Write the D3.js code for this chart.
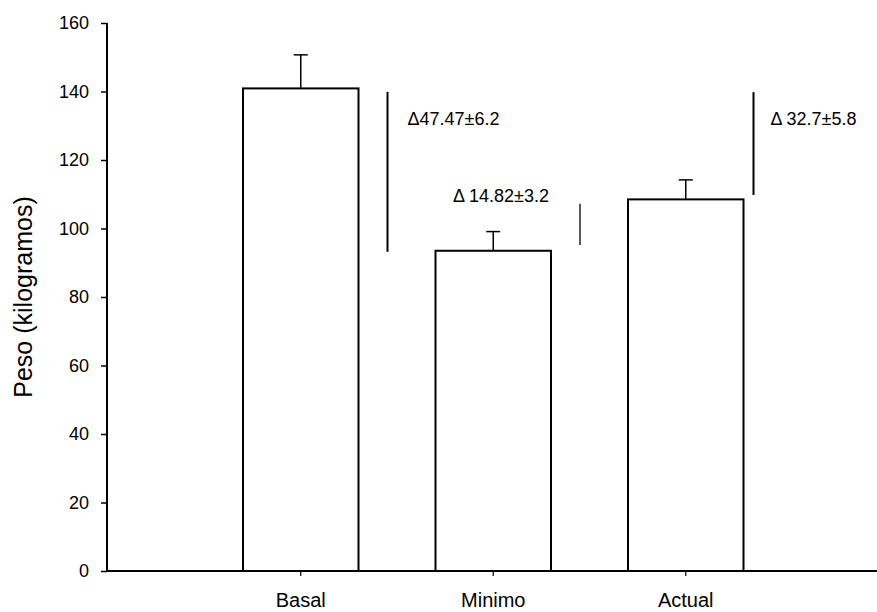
<!DOCTYPE html>
<html>
<head>
<meta charset="utf-8">
<script src="https://cdn.jsdelivr.net/npm/d3@7"></script>
<style>
  body { margin: 0; background: #fff; }
  svg { display: block; font-family: "Liberation Sans", Arial, sans-serif; }
</style>
</head>
<body>
<div id="graphic"></div>
<script>
// data
var categories = ["Basal", "Minimo", "Actual"];
var means = [140.9, 93.5, 108.5];
var errors = [9.8, 5.6, 5.7];
var yTicks = [0, 20, 40, 60, 80, 100, 120, 140, 160];

// delta annotations: text and the span of the vertical bar (kg)
var deltaLabels = ["\u039447.47\u00b16.2", "\u0394 14.82\u00b13.2", "\u0394 32.7\u00b15.8"];
var deltaTop = [139.9, 107.2, 139.8];
var deltaBottom = [93.2, 95.2, 109.8];

var width = 877, height = 612;
var axisX = 107;

var svg = d3.select("#graphic").append("svg")
  .attr("width", width)
  .attr("height", height);

// set the ranges
var y = d3.scaleLinear()
  .domain([0, 160])
  .range([571, 23]);

var x = d3.scaleBand()
  .domain(categories)
  .range([204.5, 782])
  .paddingInner(0.4)
  .paddingOuter(0.2);

var bars = categories.map(function(c, i) {
  return {name: c, mean: means[i], err: errors[i]};
});

// bars
svg.selectAll(".bar")
  .data(bars)
  .enter().append("rect")
  .attr("class", "bar")
  .attr("x", function(d) { return x(d.name); })
  .attr("y", function(d) { return y(d.mean); })
  .attr("width", x.bandwidth())
  .attr("height", function(d) { return y(0) - y(d.mean); })
  .attr("fill", "#fff")
  .attr("stroke", "#000")
  .attr("stroke-width", 2);

// error bars (upper only)
var err = svg.selectAll(".err")
  .data(bars)
  .enter().append("g")
  .attr("class", "err");

err.append("line")
  .attr("x1", function(d) { return x(d.name) + x.bandwidth() / 2; })
  .attr("x2", function(d) { return x(d.name) + x.bandwidth() / 2; })
  .attr("y1", function(d) { return y(d.mean); })
  .attr("y2", function(d) { return y(d.mean + d.err); })
  .attr("stroke", "#000")
  .attr("stroke-width", 1.5);

err.append("line")
  .attr("x1", function(d) { return x(d.name) + x.bandwidth() / 2 - 7; })
  .attr("x2", function(d) { return x(d.name) + x.bandwidth() / 2 + 7; })
  .attr("y1", function(d) { return y(d.mean + d.err); })
  .attr("y2", function(d) { return y(d.mean + d.err); })
  .attr("stroke", "#000")
  .attr("stroke-width", 1.5);

// y axis
var yAxis = svg.append("g")
  .attr("transform", "translate(" + axisX + ",0)")
  .call(d3.axisLeft(y).tickValues(yTicks).tickSize(6).tickPadding(12));

yAxis.select(".domain").remove();
yAxis.append("line")
  .attr("x1", 0).attr("x2", 0)
  .attr("y1", y(0)).attr("y2", y(160))
  .attr("stroke", "#000")
  .attr("stroke-width", 2);
yAxis.selectAll(".tick line").attr("stroke-width", 1.5);
yAxis.selectAll(".tick text")
  .attr("font-size", 18)
  .attr("fill", "#000");

// x axis
var xAxis = svg.append("g")
  .attr("transform", "translate(0," + y(0) + ")")
  .call(d3.axisBottom(x).tickSize(5).tickPadding(0));

xAxis.select(".domain").remove();
xAxis.append("line")
  .attr("x1", axisX).attr("x2", width)
  .attr("y1", 0).attr("y2", 0)
  .attr("stroke", "#000")
  .attr("stroke-width", 2);
xAxis.selectAll(".tick line").attr("stroke-width", 1.2);
xAxis.selectAll(".tick text")
  .attr("y", 36)
  .attr("dy", 0)
  .attr("font-size", 20)
  .attr("fill", "#000");

// y axis title
svg.append("text")
  .attr("transform", "translate(32," + (y(0) + y(160)) / 2 + ") rotate(-90)")
  .attr("text-anchor", "middle")
  .attr("font-size", 25)
  .text("Peso (kilogramos)");

// delta annotations
var lineOffset = [29, 29, 10];
var textDx = [20, -127, 17];
var textDy = [33, -2, 33];

var ann = svg.selectAll(".delta")
  .data(deltaLabels)
  .enter().append("g")
  .attr("class", "delta")
  .attr("transform", function(d, i) {
    return "translate(" + (x(categories[i]) + x.bandwidth() + lineOffset[i]) + ",0)";
  });

ann.append("line")
  .attr("x1", 0).attr("x2", 0)
  .attr("y1", function(d, i) { return y(deltaTop[i]); })
  .attr("y2", function(d, i) { return y(deltaBottom[i]); })
  .attr("stroke", "#000")
  .attr("stroke-width", function(d, i) { return i === 1 ? 1.3 : 2; });

ann.append("text")
  .attr("x", function(d, i) { return textDx[i]; })
  .attr("y", function(d, i) { return y(deltaTop[i]) + textDy[i]; })
  .attr("font-size", 18)
  .text(function(d) { return d; });
</script>
</body>
</html>
